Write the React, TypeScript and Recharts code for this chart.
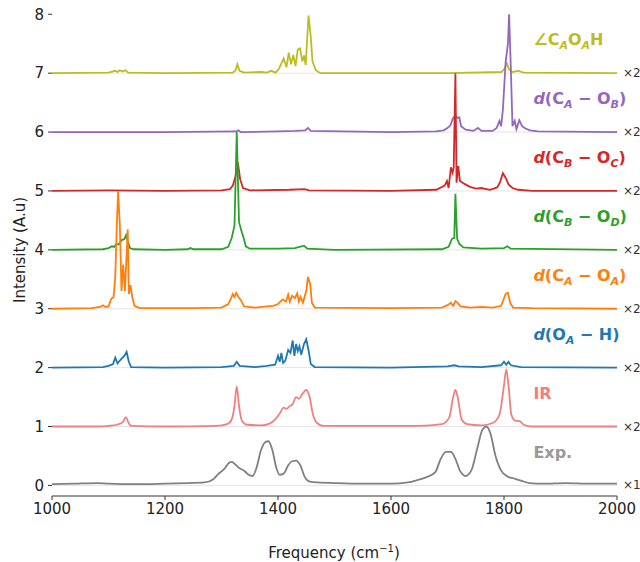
import React from "react";
import { LineChart, Line, XAxis, YAxis, CartesianGrid, ReferenceDot } from "recharts";

// spectra as [frequency (cm-1), intensity], before stacking
const angleCAOAH: [number, number][] = [
  [1000, 0], [1100, 0.01], [1112, 0.04], [1116, 0.02], [1120, 0.05], [1125, 0.03], [1130, 0.05], [1135, 0.01],
  [1200, 0], [1320, 0.01], [1325, 0.05], [1328, 0.15], [1332, 0.04], [1340, 0.01], [1370, 0.02], [1380, 0.01],
  [1388, 0.04], [1396, 0.01], [1402, 0.08], [1410, 0.25], [1415, 0.1], [1419, 0.35], [1423, 0.15], [1427, 0.31],
  [1431, 0.12], [1435, 0.4], [1439, 0.42], [1443, 0.2], [1446, 0.3], [1449, 0.14], [1454, 0.98], [1458, 0.62],
  [1461, 0.2], [1467, 0.05], [1475, 0], [1700, 0], [1795, 0.02], [1800, 0.06], [1805, 0.17], [1809, 0.06],
  [1815, 0.02], [1825, 0.04], [1835, 0.01], [2000, 0],
];
const dCAOB: [number, number][] = [
  [1000, 0], [1200, 0], [1326, 0.01], [1330, 0.03], [1334, 0], [1400, 0.01], [1430, 0.02], [1448, 0.03],
  [1453, 0.07], [1458, 0.02], [1600, 0], [1680, 0.01], [1693, 0.03], [1700, 0.07], [1705, 0.11], [1710, 0.24],
  [1714, 0.27], [1718, 0.24], [1721, 0.25], [1724, 0.1], [1732, 0.04], [1746, 0.02], [1754, 0.07], [1760, 0.02],
  [1780, 0.02], [1787, 0.07], [1792, 0.19], [1795, 0.1], [1798, 0.38], [1803, 1.2], [1807, 1.5], [1809, 2.0],
  [1812, 1.12], [1815, 0.1], [1819, 0.19], [1822, 0.05], [1827, 0.2], [1832, 0.1], [1838, 0.06], [1846, 0.03],
  [1860, 0.01], [2000, 0],
];
const dCBOC: [number, number][] = [
  [1000, 0], [1100, 0.01], [1200, 0], [1300, 0.01], [1315, 0.03], [1320, 0.09], [1325, 0.26], [1329, 0.48],
  [1333, 0.2], [1338, 0.05], [1350, 0.01], [1420, 0.02], [1447, 0.03], [1455, 0.01], [1600, 0], [1680, 0.02],
  [1695, 0.09], [1699, 0.17], [1702, 0.05], [1706, 0.4], [1709, 0.31], [1711, 0.4], [1714, 2.0], [1716, 0.14],
  [1719, 0.42], [1722, 0.17], [1730, 0.12], [1740, 0.07], [1750, 0.04], [1760, 0.05], [1775, 0.02], [1788, 0.06],
  [1793, 0.15], [1798, 0.3], [1803, 0.22], [1808, 0.11], [1815, 0.05], [1825, 0.02], [1850, 0], [2000, 0],
];
const dCBOD: [number, number][] = [
  [1000, 0], [1090, 0.01], [1100, 0.03], [1106, 0.06], [1110, 0.05], [1114, 0.1], [1118, 0.09], [1124, 0.17],
  [1128, 0.18], [1131, 0.25], [1134, 0.15], [1138, 0.03], [1145, 0.01], [1200, 0], [1240, 0.01], [1245, 0.03],
  [1250, 0.01], [1300, 0.01], [1312, 0.05], [1318, 0.2], [1323, 0.41], [1327, 2.0], [1331, 0.47], [1336, 0.3],
  [1339, 0.21], [1343, 0.06], [1350, 0.02], [1400, 0.02], [1430, 0.03], [1446, 0.07], [1452, 0.02], [1500, 0],
  [1690, 0.01], [1702, 0.05], [1708, 0.19], [1712, 0.2], [1714, 0.95], [1717, 0.19], [1721, 0.1], [1728, 0.04],
  [1760, 0.02], [1800, 0.03], [1806, 0.06], [1812, 0.02], [2000, 0],
];
const dCAOA: [number, number][] = [
  [1000, 0], [1070, 0.01], [1085, 0.03], [1090, 0.06], [1095, 0.03], [1100, 0.04], [1105, 0.17], [1109, 0.2],
  [1112, 0.55], [1115, 1.5], [1117, 2.0], [1120, 1.45], [1123, 0.3], [1126, 0.75], [1129, 0.3], [1132, 0.9],
  [1134, 1.35], [1136, 0.25], [1139, 0.4], [1142, 0.2], [1146, 0.05], [1155, 0.01], [1250, 0.01], [1300, 0.02],
  [1312, 0.08], [1317, 0.18], [1320, 0.25], [1323, 0.2], [1326, 0.27], [1330, 0.2], [1334, 0.15], [1340, 0.04],
  [1360, 0.02], [1380, 0.04], [1392, 0.05], [1400, 0.08], [1408, 0.16], [1414, 0.12], [1418, 0.24], [1421, 0.12],
  [1425, 0.22], [1430, 0.18], [1434, 0.26], [1437, 0.12], [1440, 0.2], [1444, 0.1], [1450, 0.3], [1453, 0.54],
  [1457, 0.42], [1460, 0.1], [1465, 0.02], [1600, 0.01], [1690, 0.02], [1700, 0.06], [1706, 0.1], [1710, 0.05],
  [1714, 0.13], [1718, 0.1], [1723, 0.04], [1740, 0.02], [1760, 0.03], [1780, 0.02], [1795, 0.05], [1803, 0.25],
  [1807, 0.27], [1811, 0.1], [1816, 0.02], [1850, 0.01], [2000, 0],
];
const dOAH: [number, number][] = [
  [1000, 0], [1090, 0.01], [1100, 0.03], [1108, 0.06], [1112, 0.17], [1116, 0.07], [1120, 0.12], [1124, 0.16],
  [1128, 0.2], [1132, 0.27], [1136, 0.1], [1140, 0.01], [1200, 0], [1300, 0.01], [1322, 0.03], [1327, 0.1],
  [1332, 0.03], [1360, 0.01], [1380, 0.03], [1395, 0.05], [1400, 0.2], [1403, 0.1], [1406, 0.25], [1409, 0.08],
  [1413, 0.12], [1418, 0.3], [1422, 0.25], [1426, 0.46], [1429, 0.2], [1432, 0.4], [1435, 0.28], [1438, 0.36],
  [1441, 0.22], [1446, 0.4], [1450, 0.48], [1454, 0.3], [1458, 0.06], [1465, 0.01], [1600, 0], [1700, 0.02],
  [1712, 0.04], [1720, 0.02], [1760, 0.01], [1795, 0.04], [1800, 0.1], [1804, 0.05], [1808, 0.1], [1812, 0.04],
  [1830, 0.01], [2000, 0],
];
const irSpectrum: [number, number][] = [
  [1000, 0], [1080, 0], [1100, 0.01], [1115, 0.03], [1125, 0.07], [1131, 0.16], [1135, 0.07], [1140, 0.01],
  [1200, 0], [1290, 0.01], [1310, 0.04], [1318, 0.12], [1323, 0.35], [1327, 0.68], [1331, 0.35], [1336, 0.1],
  [1345, 0.03], [1370, 0.02], [1385, 0.05], [1395, 0.12], [1403, 0.22], [1410, 0.32], [1415, 0.3], [1420, 0.34],
  [1426, 0.38], [1432, 0.5], [1437, 0.47], [1443, 0.55], [1450, 0.62], [1456, 0.5], [1462, 0.2], [1470, 0.05],
  [1480, 0.01], [1650, 0.01], [1690, 0.04], [1703, 0.15], [1710, 0.5], [1714, 0.62], [1718, 0.5], [1725, 0.12],
  [1735, 0.04], [1760, 0.02], [1780, 0.06], [1792, 0.2], [1800, 0.7], [1804, 0.97], [1808, 0.7], [1813, 0.2],
  [1820, 0.1], [1828, 0.09], [1835, 0.03], [1850, 0], [2000, 0],
];
const expSpectrum: [number, number][] = [
  [1000, 0.02], [1040, 0.03], [1080, 0.04], [1100, 0.03], [1150, 0.02], [1200, 0.03], [1240, 0.04], [1270, 0.05],
  [1285, 0.1], [1295, 0.2], [1305, 0.28], [1313, 0.38], [1318, 0.4], [1325, 0.35], [1332, 0.29], [1340, 0.25],
  [1348, 0.18], [1355, 0.16], [1362, 0.3], [1370, 0.6], [1378, 0.74], [1383, 0.75], [1390, 0.6], [1397, 0.3],
  [1403, 0.18], [1410, 0.2], [1418, 0.34], [1425, 0.41], [1432, 0.42], [1440, 0.33], [1447, 0.15], [1455, 0.07],
  [1470, 0.05], [1500, 0.04], [1550, 0.03], [1600, 0.03], [1630, 0.05], [1650, 0.1], [1665, 0.15], [1678, 0.22],
  [1688, 0.45], [1697, 0.57], [1706, 0.57], [1714, 0.45], [1722, 0.25], [1732, 0.16], [1742, 0.25], [1752, 0.6],
  [1762, 0.95], [1769, 1.0], [1776, 0.88], [1785, 0.5], [1795, 0.25], [1805, 0.16], [1820, 0.11], [1830, 0.08],
  [1845, 0.04], [1870, 0.03], [1910, 0.04], [1950, 0.03], [2000, 0.03],
];

type Part = { t: string; sub?: boolean; it?: boolean };

// top to bottom, also the drawing order
const spectra = [angleCAOAH, dCAOB, dCBOC, dCBOD, dCAOA, dOAH, irSpectrum, expSpectrum];
const offsets = [7, 6, 5, 4, 3, 2, 1, 0];
const colors = ["#bcbd22", "#9467bd", "#d62728", "#2ca02c", "#ff7f0e", "#1f77b4", "#f08080", "#808080"];
const labelColors = ["#bcbd22", "#9467bd", "#d62728", "#2ca02c", "#ff7f0e", "#1f77b4", "#f08080", "#999999"];
const scaleTags = ["×2", "×2", "×2", "×2", "×2", "×2", "×2", "×1"];
const smooth = [false, false, false, false, false, false, true, true];
const seriesLabels: Part[][] = [
  [{ t: "∠C" }, { t: "A", sub: true }, { t: "O" }, { t: "A", sub: true }, { t: "H" }],
  [{ t: "d", it: true }, { t: "(C" }, { t: "A", sub: true }, { t: " − O" }, { t: "B", sub: true }, { t: ")" }],
  [{ t: "d", it: true }, { t: "(C" }, { t: "B", sub: true }, { t: " − O" }, { t: "C", sub: true }, { t: ")" }],
  [{ t: "d", it: true }, { t: "(C" }, { t: "B", sub: true }, { t: " − O" }, { t: "D", sub: true }, { t: ")" }],
  [{ t: "d", it: true }, { t: "(C" }, { t: "A", sub: true }, { t: " − O" }, { t: "A", sub: true }, { t: ")" }],
  [{ t: "d", it: true }, { t: "(O" }, { t: "A", sub: true }, { t: " − H)" }],
  [{ t: "IR" }],
  [{ t: "Exp." }],
];
const labelFreq = 1852;
const labelLift = 0.47;

const freqTicks = [1000, 1200, 1400, 1600, 1800, 2000];
const intensityTicks = [0, 1, 2, 3, 4, 5, 6, 7, 8];

const font = "DejaVu Sans, sans-serif";

const renderLabel = (parts: Part[], color: string) => (p: any) => {
  let down = false;
  return (
    <text x={p.cx} y={p.cy} fill={color} fontWeight="bold" fontFamily={font} style={{ whiteSpace: "pre" }}>
      {parts.map((part, i) => {
        const dy = part.sub ? (down ? 0 : 4) : down ? -4 : 0;
        down = !!part.sub;
        return (
          <tspan key={i} dy={dy} fontSize={part.sub ? 11 : 16} fontStyle={part.sub || part.it ? "italic" : "normal"}>
            {part.t}
          </tspan>
        );
      })}
    </text>
  );
};

const renderTag = (tag: string) => (p: any) => (
  <text x={p.cx + 6} y={p.cy + 4} fontSize={12} fill="#333" fontFamily={font}>
    {tag}
  </text>
);

export default function App() {
  const series = spectra.map((pts, i) => pts.map(([x, v]) => ({ x, y: v + offsets[i] })));

  return (
    <div style={{ position: "relative", width: 640, height: 562, fontFamily: font, background: "#fff" }}>
      <style>{"body{margin:0}"}</style>
      <LineChart width={640} height={562} margin={{ top: 2.5, right: 23, bottom: 36, left: 8 }}>
        <CartesianGrid vertical={false} horizontalValues={offsets} stroke="#e4e4e4" />
        <XAxis
          type="number"
          dataKey="x"
          domain={[1000, 2000]}
          ticks={freqTicks}
          allowDataOverflow
          height={30}
          tickSize={4}
          tickMargin={3}
          stroke="#333"
          tick={{ fill: "#222", fontSize: 15, fontFamily: font }}
        />
        <YAxis
          type="number"
          domain={[-0.18, 8.2]}
          ticks={intensityTicks}
          allowDataOverflow
          width={44}
          axisLine={false}
          tickSize={4}
          tickMargin={4}
          stroke="#333"
          tick={{ fill: "#222", fontSize: 15, fontFamily: font }}
        />
        {series.map((d, i) => (
          <Line
            key={i}
            data={d}
            dataKey="y"
            type={smooth[i] ? "monotone" : "linear"}
            stroke={colors[i]}
            strokeWidth={1.8}
            dot={false}
            isAnimationActive={false}
          />
        ))}
        {seriesLabels.map((parts, i) => (
          <ReferenceDot
            key={"l" + i}
            x={labelFreq}
            y={offsets[i] + labelLift}
            r={1}
            ifOverflow="visible"
            shape={renderLabel(parts, labelColors[i])}
          />
        ))}
        {scaleTags.map((tag, i) => (
          <ReferenceDot key={"t" + i} x={2000} y={offsets[i]} r={1} ifOverflow="visible" shape={renderTag(tag)} />
        ))}
      </LineChart>
      <div
        style={{
          position: "absolute",
          left: 20,
          top: 250,
          transform: "translate(-50%, -50%) rotate(-90deg)",
          whiteSpace: "nowrap",
          fontSize: 15,
          color: "#222",
        }}
      >
        Intensity (A.u)
      </div>
      <div
        style={{
          position: "absolute",
          left: 334,
          top: 552,
          transform: "translate(-50%, -50%)",
          whiteSpace: "nowrap",
          fontSize: 15,
          color: "#222",
        }}
      >
        Frequency (cm<sup style={{ fontSize: 10 }}>−1</sup>)
      </div>
    </div>
  );
}
